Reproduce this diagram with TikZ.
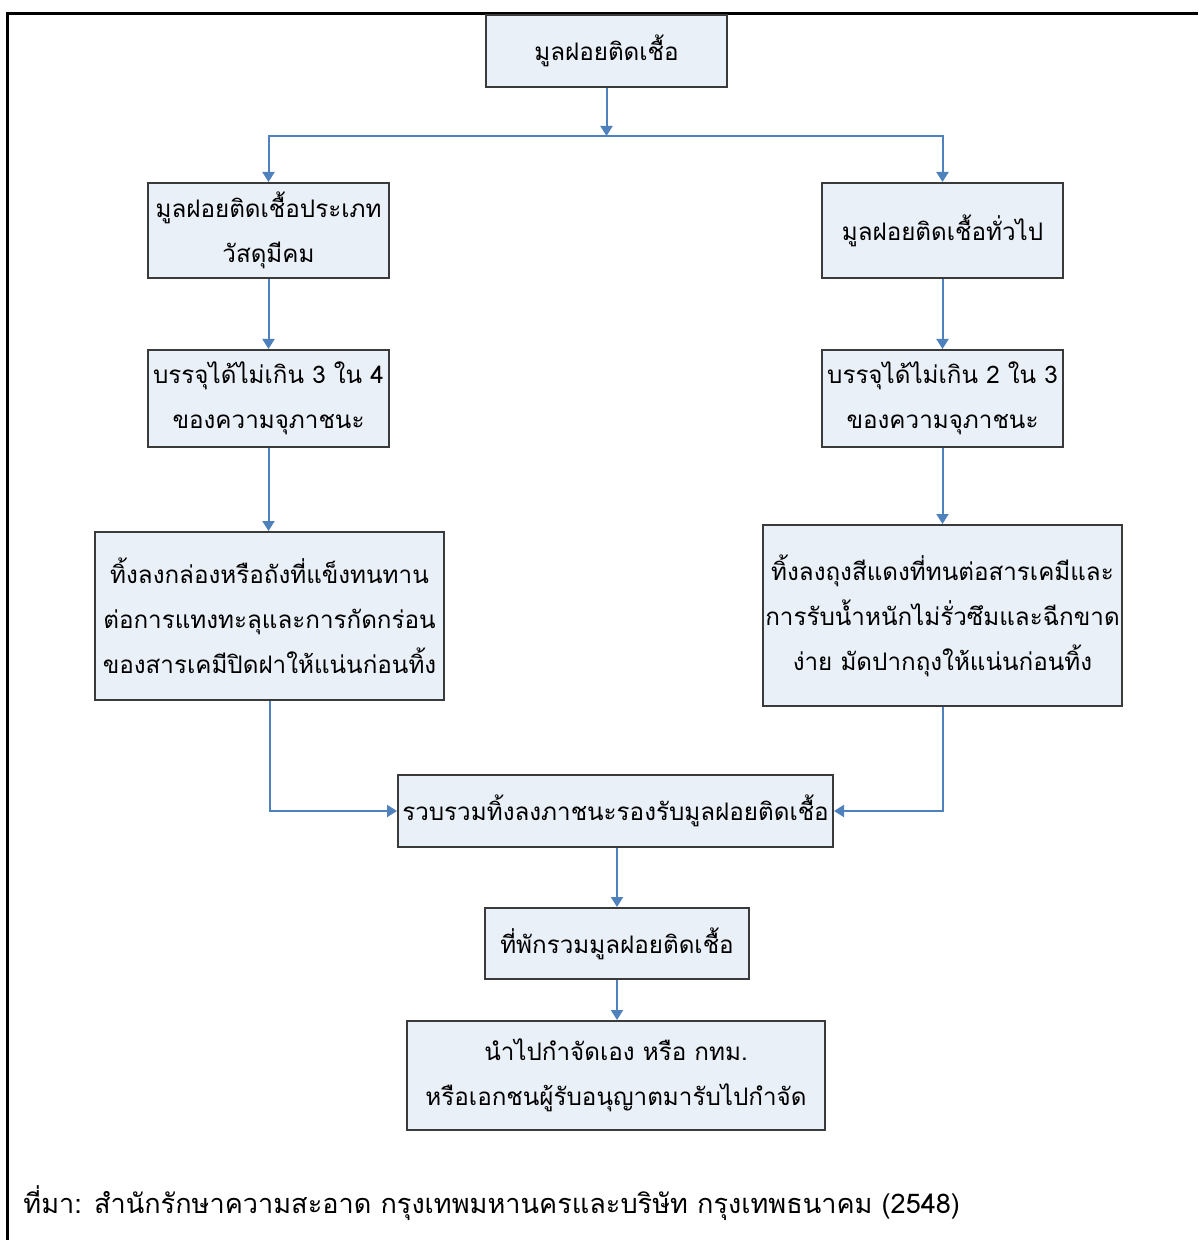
\documentclass[tikz,border=0pt]{standalone}
\usepackage{fontspec}
\newfontfamily\thaifont[Script=Thai]{Loma}
\usetikzlibrary{arrows.meta}
\definecolor{boxfill}{HTML}{EAF0F8}
\definecolor{boxline}{HTML}{3A3A3A}
\definecolor{arr}{HTML}{4F81BD}
\begin{document}
\begin{tikzpicture}[x=0.5pt,y=-0.5pt,
  flowbox/.style={draw=boxline, line width=1pt, fill=boxfill, inner sep=0pt, align=center,
    font=\thaifont\fontsize{12.1}{22.5}\selectfont},
  conn/.style={draw=arr, line width=1pt, -{Triangle[length=5pt,width=6pt]}},
  ]
\useasboundingbox (0,0) rectangle (1198,1240);
\draw[line width=1.5pt] (7,1240) -- (7,14) -- (1198,14);

\node[flowbox, minimum width=120.5pt, minimum height=36pt] (top) at (606.5,51) {มูลฝอยติดเชื้อ};
\node[flowbox, minimum width=120.5pt, minimum height=47.5pt] (l1) at (268.5,230.5) {มูลฝอยติดเชื้อประเภท\\วัสดุมีคม};
\node[flowbox, minimum width=120.5pt, minimum height=47.5pt] (r1) at (942.5,230.5) {มูลฝอยติดเชื้อทั่วไป};
\node[flowbox, minimum width=120.5pt, minimum height=48.5pt] (l2) at (268.5,398.5) {บรรจุได้ไม่เกิน 3 ใน 4\\ของความจุภาชนะ};
\node[flowbox, minimum width=120.5pt, minimum height=48.5pt] (r2) at (942.5,398.5) {บรรจุได้ไม่เกิน 2 ใน 3\\ของความจุภาชนะ};
\node[flowbox, minimum width=174.5pt, minimum height=84pt] (l3) at (269.5,616) {ทิ้งลงกล่องหรือถังที่แข็งทนทาน\\ต่อการแทงทะลุและการกัดกร่อน\\ของสารเคมีปิดฝาให้แน่นก่อนทิ้ง};
\node[flowbox, minimum width=179.5pt, minimum height=90.5pt] (r3) at (942.5,615.5) {ทิ้งลงถุงสีแดงที่ทนต่อสารเคมีและ\\การรับน้ำหนักไม่รั่วซึมและฉีกขาด\\ง่าย มัดปากถุงให้แน่นก่อนทิ้ง};
\node[flowbox, minimum width=217.5pt, minimum height=36pt] (merge) at (615.5,811) {รวบรวมทิ้งลงภาชนะรองรับมูลฝอยติดเชื้อ};
\node[flowbox, minimum width=132pt, minimum height=35.5pt] (store) at (617,943.5) {ที่พักรวมมูลฝอยติดเชื้อ};
\node[flowbox, minimum width=209pt, minimum height=54.5pt] (final) at (616,1075.5) {นำไปกำจัดเอง หรือ กทม.\\หรือเอกชนผู้รับอนุญาตมารับไปกำจัด};

\coordinate (split) at (606.5,136);
\draw[conn] (top) -- (split);
\draw[conn] (split) -| (l1);
\draw[conn] (split) -| (r1);
\draw[conn] (l1) -- (l2);
\draw[conn] (r1) -- (r2);
\draw[conn] (l2.south) -- (l2.south |- l3.north);
\draw[conn] (r2) -- (r3);
\draw[conn] (l3) |- (merge);
\draw[conn] (r3) |- (merge);
\draw[conn] (merge.south -| store.north) -- (store.north);
\draw[conn] (store.south) -- (store.south |- final.north);

\node[anchor=base west, inner sep=0pt, font=\thaifont\fontsize{13.55}{16}\selectfont] (src) at (23,1213)
  {ที่มา: สำนักรักษาความสะอาด กรุงเทพมหานครและบริษัท กรุงเทพธนาคม (2548)};
\end{tikzpicture}
\end{document}
